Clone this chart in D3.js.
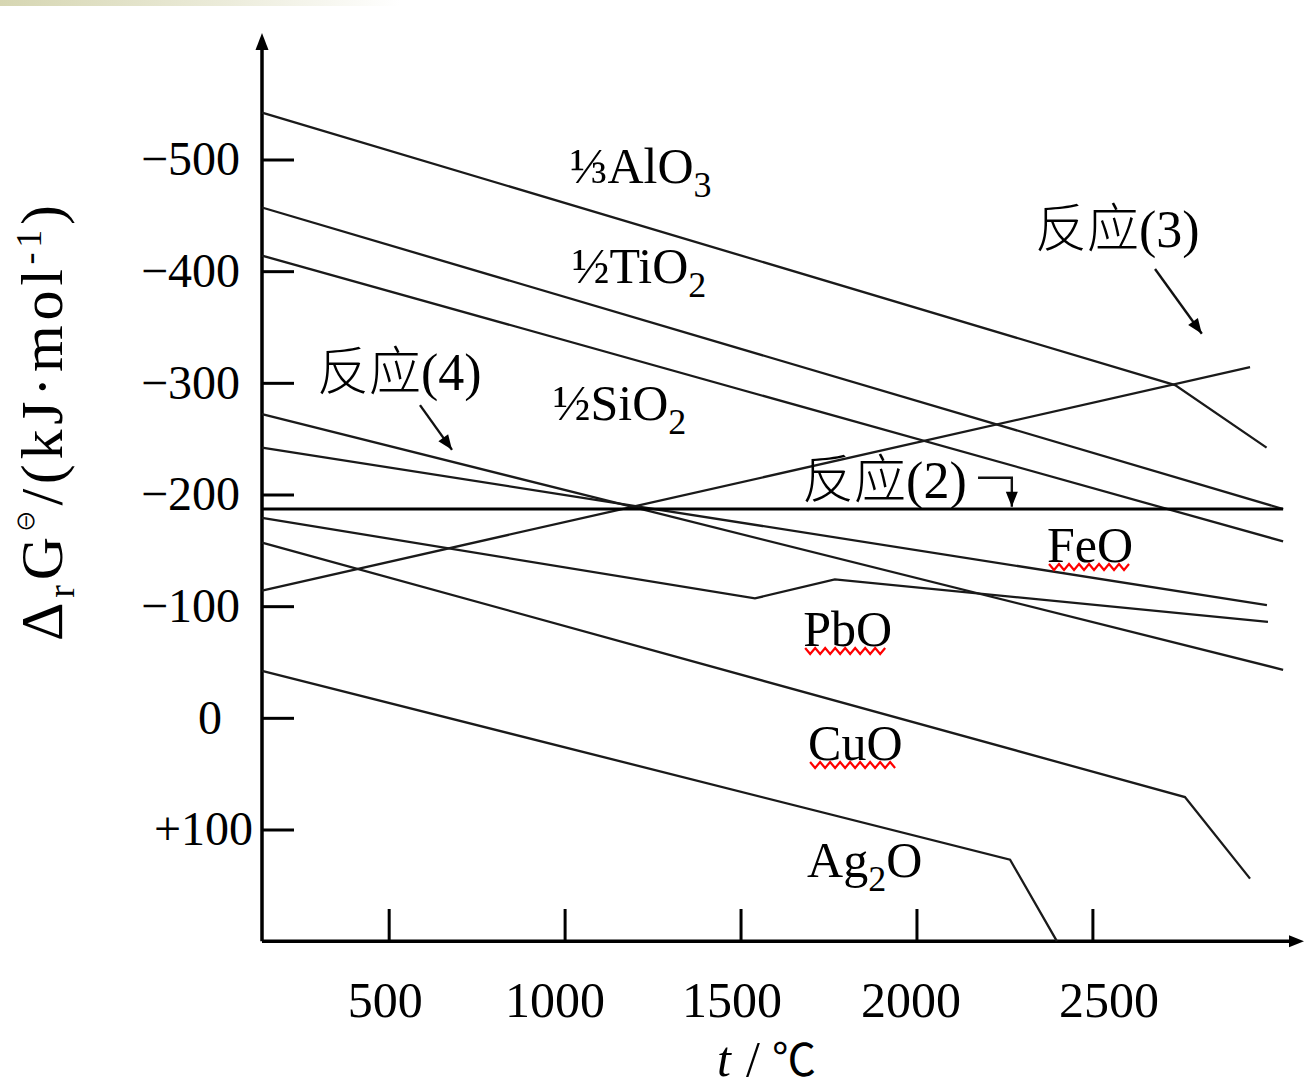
<!DOCTYPE html>
<html><head><meta charset="utf-8">
<script src="https://cdn.jsdelivr.net/npm/d3@7"></script>
<style>body{margin:0;background:#fff}svg{display:block}</style>
</head><body><svg id="c" width="1304" height="1089"></svg>
<script>
// ---------- data (t in °C, ΔG in kJ/mol) ----------
const xTicks = [500, 1000, 1500, 2000, 2500];
const xTickLabels = ["500", "1000", "1500", "2000", "2500"];
const yTicks = [-500, -400, -300, -200, -100, 0, 100];
const yTickLabels = ["−500", "−400", "−300", "−200", "−100", "0", "+100"];

const al2o3 = [[140, -542], [2735, -298], [2995, -242]];
const tio2 = [[140, -457], [3042, -187]];
const sio2 = [[140, -414], [3042, -158]];
const feo = [[140, -242], [2996, -101]];
const pbo = [[140, -179], [1541, -107], [1768, -124], [2999, -86]];
const cuo = [[140, -157], [2763, 71], [2948, 144]];
const ag2o = [[140, -42], [2266, 127], [2399, 200]];
const reaction2 = [[140, -187], [3042, -187]];
const reaction3 = [[140, -114], [2948, -314]];
const reaction4 = [[140, -272], [3042, -43]];

const arrow2 = [[2175, -215], [2271, -215], [2271, -189]];
const arrow3 = [[2678, -402], [2811, -344]];
const arrow4 = [[589, -280], [680, -240]];

// ---------- drawing ----------
const svg = d3.select("#c");
const x = d3.scaleLinear().domain([140, 3090]).range([262, 1300]);
const y = d3.scaleLinear().domain([-500, 100]).range([159.5, 829.5]);
const serif = "'Liberation Serif','Times New Roman','Noto Sans CJK SC',serif";

// slide artefact strip at top-left
const defs = svg.append("defs");
const g0 = defs.append("linearGradient").attr("id", "topg").attr("x1", 0).attr("x2", 1);
g0.append("stop").attr("offset", 0).attr("stop-color", "#d6d6b2");
g0.append("stop").attr("offset", 0.55).attr("stop-color", "#ebebd9");
g0.append("stop").attr("offset", 1).attr("stop-color", "#ffffff");
svg.append("rect").attr("x", 0).attr("y", 0).attr("width", 400).attr("height", 6).attr("fill", "url(#topg)");

// axes
const yAxis = svg.append("g").attr("transform", "translate(262,0)")
  .call(d3.axisLeft(y).tickValues(yTicks).tickFormat((d, i) => yTickLabels[i])
    .tickSize(-32).tickPadding(22).tickSizeOuter(0));
yAxis.select(".domain").remove();
yAxis.selectAll(".tick line").attr("stroke", "#000").attr("stroke-width", 3);
yAxis.selectAll(".tick text").attr("font-family", serif).attr("font-size", 48).attr("fill", "#000")
  .attr("x", (d) => d === 0 ? -40 : d === 100 ? -9 : -22);

const xAxis = svg.append("g").attr("transform", "translate(0,941)")
  .call(d3.axisBottom(x).tickValues(xTicks).tickFormat((d, i) => xTickLabels[i])
    .tickSize(-32).tickPadding(40).tickSizeOuter(0));
xAxis.select(".domain").remove();
xAxis.selectAll(".tick line").attr("stroke", "#000").attr("stroke-width", 3);
const xNudge = {500: -4, 1000: -10, 1500: -9, 2000: -6, 2500: 16};
xAxis.selectAll(".tick text").attr("font-family", serif).attr("font-size", 50).attr("fill", "#000")
  .attr("x", (d) => xNudge[d] || 0);

// axis lines with arrows
svg.append("line").attr("x1", 262).attr("y1", y(200)).attr("x2", 262).attr("y2", 44)
  .attr("stroke", "#000").attr("stroke-width", 3.5);
svg.append("path").attr("d", "M262,33 L255.5,50 L268.5,50 Z").attr("fill", "#000");
svg.append("line").attr("x1", 262).attr("y1", y(200)).attr("x2", 1292).attr("y2", y(200))
  .attr("stroke", "#000").attr("stroke-width", 3.5);
svg.append("path").attr("d", `M1304,${y(200)} L1289,${y(200) - 6} L1289,${y(200) + 6} Z`).attr("fill", "#000");

// series lines
const line = d3.line().x((d) => x(d[0])).y((d) => y(d[1]));
const thin = [al2o3, tio2, sio2, feo, pbo, cuo, ag2o, reaction3, reaction4];
svg.append("g").selectAll("path").data(thin).join("path")
  .attr("d", line).attr("fill", "none").attr("stroke", "#1a1a1a").attr("stroke-width", 2.3);
svg.append("path").datum(reaction2).attr("d", line).attr("fill", "none")
  .attr("stroke", "#000").attr("stroke-width", 3);

// annotation arrows
function arrowHead(p0, p1, len, half) {
  const dx = p1[0] - p0[0], dy = p1[1] - p0[1], L = Math.hypot(dx, dy);
  const ux = dx / L, uy = dy / L;
  const bx = p1[0] - ux * len, by = p1[1] - uy * len;
  return `M${p1[0]},${p1[1]} L${bx - uy * half},${by + ux * half} L${bx + uy * half},${by - ux * half} Z`;
}
[arrow2, arrow3, arrow4].forEach((a) => {
  const pts = a.map((d) => [x(d[0]), y(d[1])]);
  svg.append("path").attr("d", d3.line()(pts)).attr("fill", "none").attr("stroke", "#111").attr("stroke-width", 2.4);
  svg.append("path").attr("d", arrowHead(pts[pts.length - 2], pts[pts.length - 1], 15, 6)).attr("fill", "#000");
});

// labels
function label(t, v, parts, size) {
  const tx = svg.append("text").attr("x", x(t)).attr("y", y(v))
    .attr("font-family", serif).attr("font-size", size).attr("fill", "#000");
  let shift = 0;
  parts.forEach((p) => {
    const s = p.sub ? 14 : 0;
    tx.append("tspan").text(p.s).attr("dy", s - shift).attr("font-size", p.sub ? 36 : size);
    shift = s;
  });
  return tx;
}
label(1015, -479, [{s: "⅓AlO"}, {s: "3", sub: true}], 50);
label(1021, -389, [{s: "½TiO"}, {s: "2", sub: true}], 50);
label(967, -267, [{s: "½SiO"}, {s: "2", sub: true}], 50);
label(2337, -421.6, [{s: "反应(3)"}], 52).attr("font-weight", 300);
label(296, -293.6, [{s: "反应(4)"}], 52).attr("font-weight", 300);
label(1675, -196.8, [{s: "反应(2)"}], 52).attr("font-weight", 300);
const feoT = label(2371, -139.5, [{s: "FeO"}], 50);
const pboT = label(1678, -64.3, [{s: "PbO"}], 50);
const cuoT = label(1692, 37.8, [{s: "CuO"}], 50);
label(1689, 142.6, [{s: "Ag"}, {s: "2", sub: true}, {s: "O"}], 50);

// spell-check squiggles under labels
[feoT, pboT, cuoT].forEach((tx) => {
  const b = tx.node().getBBox();
  const x0 = b.x + 2, x1 = b.x + b.width - 4, yb = +tx.attr("y") + 2;
  let d = `M${x0},${yb}`, k = 0;
  for (let xx = x0 + 5; xx <= x1; xx += 5) { k++; d += ` L${xx},${yb + (k % 2 ? 6 : 0)}`; }
  svg.append("path").attr("d", d).attr("fill", "none").attr("stroke", "#ff0000").attr("stroke-width", 2.2);
});

// axis titles
const yt = svg.append("text").attr("transform", "translate(62,641) rotate(-90)")
  .attr("font-family", serif).attr("font-size", 60).attr("fill", "#000")
  .attr("textLength", 436).attr("lengthAdjust", "spacing");
yt.append("tspan").text("Δ");
yt.append("tspan").text("r").attr("font-size", 38).attr("dy", 12);
yt.append("tspan").text("G").attr("dy", -12);
yt.append("tspan").text("⊖").attr("font-size", 22).attr("dy", -28);
yt.append("tspan").text("/(kJ·mol").attr("dy", 28);
yt.append("tspan").text("-1").attr("font-size", 36).attr("dy", -21);
yt.append("tspan").text(")").attr("dy", 21);

const xt = svg.append("text").attr("y", 1076).attr("font-family", serif).attr("font-size", 50).attr("fill", "#000");
xt.append("tspan").text("t").attr("x", 717).attr("font-style", "italic");
xt.append("tspan").text("/").attr("x", 746);
xt.append("tspan").text("℃").attr("x", 772).attr("font-family", "'Noto Sans CJK SC',sans-serif").attr("font-size", 44);
</script>
</body></html>
